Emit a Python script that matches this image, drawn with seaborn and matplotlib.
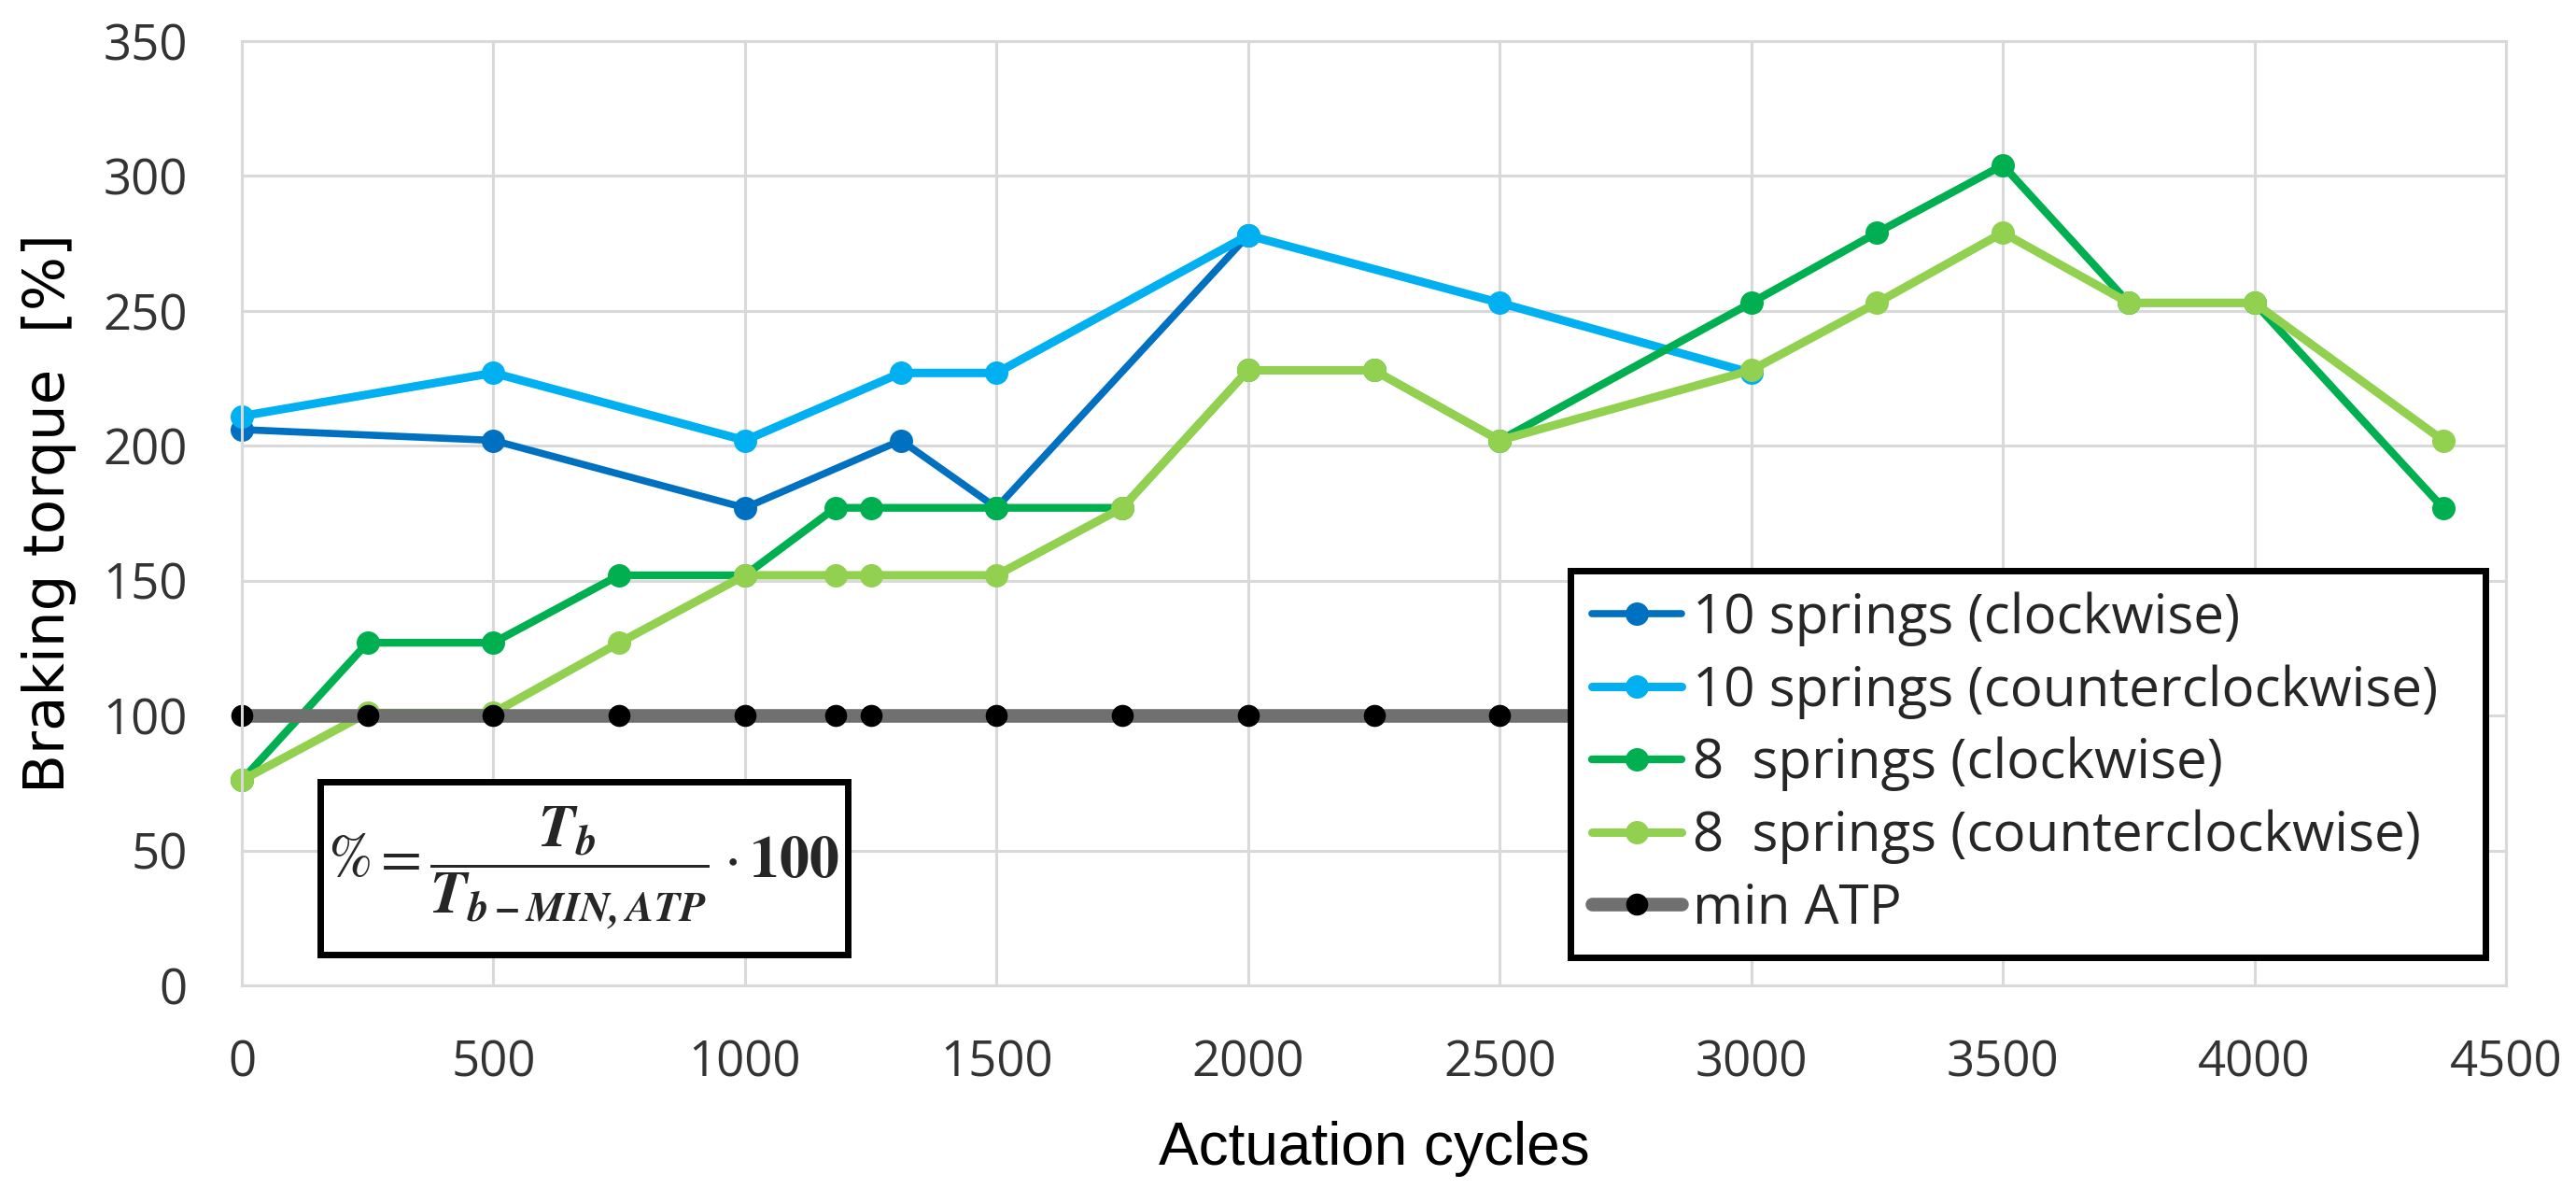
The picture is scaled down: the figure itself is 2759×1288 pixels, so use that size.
import pandas as pd
import seaborn as sns
import matplotlib.pyplot as plt
from matplotlib.patches import Rectangle

# Values
cycles_10cw = [0, 500, 1000, 1310, 1500, 2000]
torque_10cw = [206, 202, 177, 202, 177, 278]

cycles_10ccw = [0, 500, 1000, 1310, 1500, 2000, 2500, 3000]
torque_10ccw = [211, 227, 202, 227, 227, 278, 253, 227]

cycles_8 = [0, 250, 500, 750, 1000, 1180, 1250, 1500, 1750, 2000, 2250, 2500,
            3000, 3250, 3500, 3750, 4000, 4375]
torque_8cw = [76, 127, 127, 152, 152, 177, 177, 177, 177, 228, 228, 202,
              253, 279, 304, 253, 253, 177]
torque_8ccw = [76, 101, 101, 127, 152, 152, 152, 152, 177, 228, 228, 202,
               228, 253, 279, 253, 253, 202]

cycles_atp = cycles_8
torque_atp = [100] * len(cycles_atp)

labels = ['10 springs (clockwise)', '10 springs (counterclockwise)',
          '8  springs (clockwise)', '8  springs (counterclockwise)', 'min ATP']
colors = ['#0070C0', '#00B0F0', '#00B050', '#92D050', '#707070']

x_ticks = list(range(0, 4501, 500))
y_ticks = list(range(0, 351, 50))

sns.set_style('whitegrid')
plt.rcParams['font.family'] = ['Open Sans', 'DejaVu Sans']
plt.rcParams['mathtext.fontset'] = 'stix'

fig = plt.figure(figsize=(27.59, 12.88), dpi=100)
ax = fig.add_axes([259 / 2759, 1 - 1055 / 1288, 2425 / 2759, 1011 / 1288])

series = [
    (cycles_10cw, torque_10cw),
    (cycles_10ccw, torque_10ccw),
    (cycles_8, torque_8cw),
    (cycles_8, torque_8ccw),
]
widths = [5.5, 6.5, 6, 6.5]
for (xs, ys), lab, col, lw in zip(series, labels[:4], colors[:4], widths):
    df = pd.DataFrame({'cycles': xs, 'torque': ys})
    sns.lineplot(data=df, x='cycles', y='torque', ax=ax, color=col, label=lab,
                 marker='o', markersize=18, markeredgewidth=0, linewidth=lw,
                 estimator=None, sort=False, clip_on=False)

df_atp = pd.DataFrame({'cycles': cycles_atp, 'torque': torque_atp})
sns.lineplot(data=df_atp, x='cycles', y='torque', ax=ax, color=colors[4], label=labels[4],
             marker='o', markersize=17, markerfacecolor='black', markeredgecolor='black',
             markeredgewidth=0, linewidth=10.5, estimator=None, sort=False, clip_on=False)

ax.set_xlim(0, 4500)
ax.set_ylim(0, 350)
ax.set_xticks(x_ticks)
ax.set_yticks(y_ticks)
ax.grid(True, color='#d9d9d9', linewidth=2.2)
for sp in ax.spines.values():
    sp.set_color('#d9d9d9')
    sp.set_linewidth(2.2)
ax.tick_params(axis='both', length=0, labelsize=38, labelcolor='#333333')
ax.tick_params(axis='x', pad=41)
ax.tick_params(axis='y', pad=42)

ax.set_xlabel('Actuation cycles', fontsize=46, family='Liberation Sans', color='black', va='top')
ax.xaxis.set_label_coords(0.5, -0.143)
ax.set_ylabel('Braking torque  [%]', fontsize=44, family='DejaVu Sans', color='black')
ax.yaxis.set_label_coords(-0.073, 0.5)

handles, labs = ax.get_legend_handles_labels()
leg = ax.legend(handles, labs, loc='upper left', bbox_to_anchor=(0.587, 0.008, 0.404, 0.431),
                mode='expand', borderaxespad=0, fontsize=42, frameon=True, fancybox=False,
                framealpha=1, edgecolor='black', borderpad=0.38, labelspacing=0.33,
                handlelength=1.65, handletextpad=0.2)
leg.get_frame().set_linewidth(5)
leg.set_zorder(10)

# Formula box
ax.add_patch(Rectangle((0.0346, 0.0326), 0.233, 0.183, transform=ax.transAxes,
                       facecolor='white', edgecolor='black', linewidth=5, zorder=9))
ax.text(0.151, 0.124,
        r'$\% = \dfrac{\mathbfit{T_b}}{\mathbfit{T_{b-MIN,ATP}}}\cdot\mathbf{100}$',
        transform=ax.transAxes, ha='center', va='center', fontsize=46, zorder=11)

fig.savefig('out.png', dpi=100)
